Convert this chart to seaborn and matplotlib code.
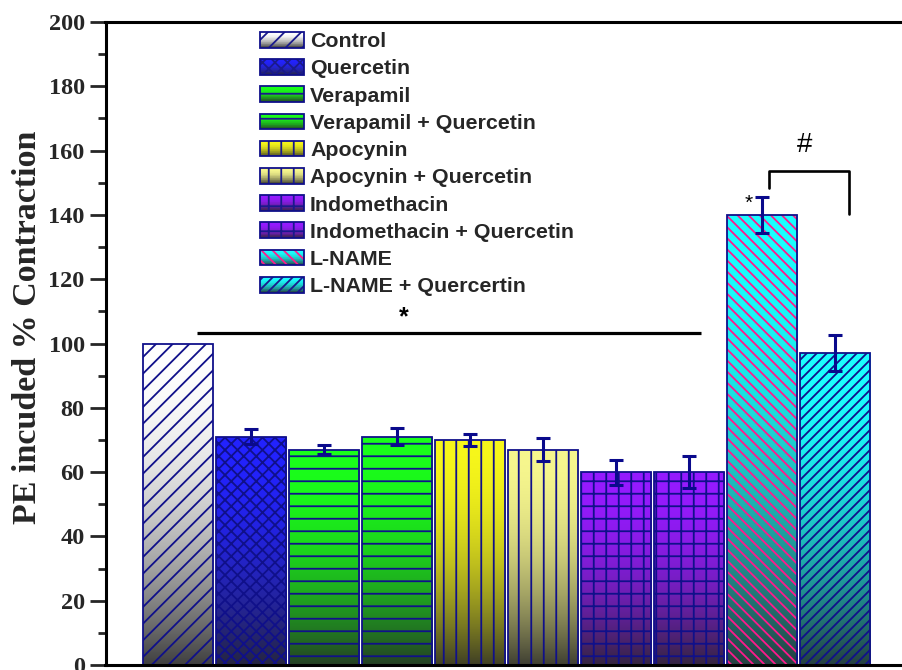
import numpy as np
import pandas as pd
import matplotlib
matplotlib.use("Agg")
import matplotlib.pyplot as plt
import seaborn as sns
from matplotlib.patches import Rectangle
from matplotlib.legend_handler import HandlerBase
from matplotlib.colors import to_rgb
from matplotlib.backend_bases import GraphicsContextBase

# ---------------- data ----------------
groups = ["Control", "Quercetin", "Verapamil", "Verapamil + Quercetin",
          "Apocynin", "Apocynin + Quercetin", "Indomethacin",
          "Indomethacin + Quercetin", "L-NAME", "L-NAME + Quercertin"]
contraction = [100, 71, 67, 71, 70, 67, 60, 60, 140, 97]
sem = [0, 2.3, 1.5, 2.6, 1.9, 3.7, 3.9, 5.1, 5.6, 5.6]

# ---------------- styling ----------------
top_colors = ["#ffffff", "#2222ff", "#1aff1a", "#1aff1a", "#f7f71a",
              "#f7f78e", "#961aff", "#961aff", "#1affff", "#1affff"]
hatches = ["/", "x", "-", "-", "|", "|", "+", "+", "\\", "//"]
hatch_colors = ["#1a1a8c"] * 8 + ["#ff1a8c", "#1a1a8c"]
navy = "#10108a"
dark = np.array(to_rgb("#262626"))

# hatch line counts per inch-sized tile (even counts keep diagonal tiles seamless)
HATCH_DENSITY = {"/": 12, "x": 16, "-": 8, "|": 8, "+": 8,
                 "\\": 18, "//": 10}
_orig_hatch_path = GraphicsContextBase.get_hatch_path


def _hatch_path(self, density=6.0):
    return _orig_hatch_path(self, HATCH_DENSITY.get(self.get_hatch(), density))


GraphicsContextBase.get_hatch_path = _hatch_path


def gradient(color, n=256):
    """Vertical gradient: bright colour at the top fading to dark at the bottom."""
    top = np.array(to_rgb(color))
    s = np.linspace(0, 1, n)[:, None]
    t = s ** 2
    bottom = 0.12 * top + 0.88 * dark
    return top * (1 - t) + bottom * t


class Swatch:
    def __init__(self, color, hatch, hcolor):
        self.color, self.hatch, self.hcolor = color, hatch, hcolor


class SwatchHandler(HandlerBase):
    def create_artists(self, legend, orig, xdescent, ydescent, width, height,
                       fontsize, trans):
        x0, y0 = -xdescent, -ydescent
        cols = gradient(orig.color, 24)
        n = len(cols)
        arts = []
        for i, c in enumerate(cols):
            yb = y0 + height * (n - 1 - i) / n
            arts.append(Rectangle((x0, yb), width, height / n * 1.05,
                                  facecolor=c, edgecolor="none", lw=0,
                                  transform=trans))
        arts.append(Rectangle((x0, y0), width, height, facecolor="none",
                              edgecolor=orig.hcolor, hatch=orig.hatch, lw=0,
                              transform=trans))
        arts.append(Rectangle((x0, y0), width, height, facecolor="none",
                              edgecolor=navy, lw=1.3, transform=trans))
        return arts


plt.rcParams["hatch.linewidth"] = 1.3
sns.set_style("ticks")

W, H = 902, 670
fig = plt.figure(figsize=(W / 100, H / 100), dpi=100)
px_per_unit = 73.0
x_left = -0.99
x_right = 10.5
ax = fig.add_axes([105.5 / W, 5 / H, (x_right - x_left) * px_per_unit / W, 643 / H])

df = pd.DataFrame({"group": groups, "value": contraction})
sns.barplot(data=df, x="group", y="value", hue="group", order=groups,
            hue_order=groups, palette=top_colors, legend=False, ax=ax,
            width=0.96, edgecolor=navy, linewidth=1.3, errorbar=None,
            saturation=1)

bars = [b for cont in ax.containers for b in cont]
centers = []
for bar, col, hat, hcol in zip(bars, top_colors, hatches, hatch_colors):
    x0, w, h = bar.get_x(), bar.get_width(), bar.get_height()
    centers.append(x0 + w / 2)
    im = ax.imshow(gradient(col)[:, None, :], extent=(x0, x0 + w, 0, h),
                   origin="upper", aspect="auto", interpolation="bilinear",
                   zorder=1.5)
    im.set_clip_path(bar)
    bar.set_facecolor("none")
    bar.set_hatch(hat)
    bar.set_zorder(2)
    if hcol != hatch_colors[0]:
        bar.set_edgecolor(hcol)
        bar.set_linewidth(0)
        ax.add_patch(Rectangle((x0, 0), w, h, fill=False, edgecolor=navy,
                               lw=1.3, zorder=2.1))

centers = np.array(centers)
vals = np.array(contraction, dtype=float)
errs = np.array(sem, dtype=float)
has_err = errs > 0
ax.errorbar(centers[has_err], vals[has_err], yerr=errs[has_err], fmt="none",
            ecolor="#0a0a8c", elinewidth=2.2, capsize=5, capthick=2.2,
            zorder=4)

# significance marks
ax.plot([0.27, 7.17], [103.3, 103.3], color="black", lw=2.3,
        solid_capstyle="butt", zorder=4)
ax.text(3.09, 108.0, "*", ha="center", va="center", fontsize=18,
        fontweight="bold", family="Liberation Sans", color="black")
ax.plot([8.105, 8.105, 9.19, 9.19], [148.4, 153.6, 153.6, 140.4],
        color="black", lw=1.9, zorder=4)
ax.text(8.58, 161.8, "#", ha="center", va="center", fontsize=20,
        family="Liberation Sans", color="black")
ax.text(7.82, 143.5, "*", ha="center", va="center", fontsize=15,
        family="Liberation Sans", color="black")

# axes
ax.set_xlim(x_left, x_right)
ax.set_ylim(0, 200)
ax.set_xticks([])
ax.set_xlabel("")
ax.set_ylabel("")
ax.set_yticks(np.arange(0, 201, 20))
ax.set_yticks(np.arange(10, 200, 20), minor=True)
for lab in ax.get_yticklabels():
    lab.set_fontfamily("Liberation Serif")
    lab.set_fontweight("bold")
    lab.set_fontsize(17.5)
ax.tick_params(axis="y", which="major", length=11.5, width=2, pad=3.5,
               direction="out")
ax.tick_params(axis="y", which="minor", length=5.5, width=2, direction="out")
for sp in ax.spines.values():
    sp.set_visible(True)
    sp.set_linewidth(2.2)
    sp.set_color("black")

fig.text(28 / W, 1 - 327.5 / H, "PE incuded % Contraction",
         family="Liberation Serif", fontweight="bold", fontsize=24.5,
         rotation=90, ha="center", va="center")

handles = [Swatch(c, h, hc) for c, h, hc in zip(top_colors, hatches, hatch_colors)]
leg = ax.legend(handles, groups, handler_map={Swatch: SwatchHandler()},
                loc="upper left", bbox_to_anchor=(260 / W, 1 - 32 / H),
                bbox_transform=fig.transFigure, frameon=False,
                prop={"family": "Liberation Sans", "weight": "bold", "size": 15.4},
                handlelength=2.06, handleheight=0.75, handletextpad=0.28,
                labelspacing=0.37, borderpad=0, borderaxespad=0)

fig.savefig("out.png", dpi=100)
